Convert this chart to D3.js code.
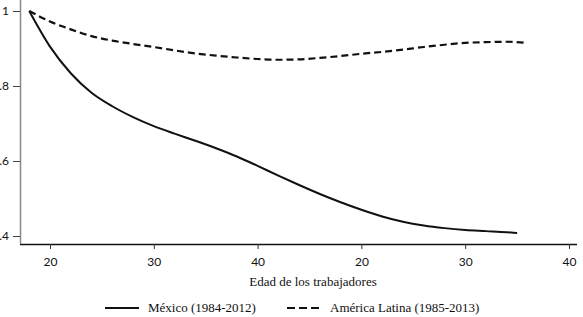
<!DOCTYPE html>
<html>
<head>
<meta charset="utf-8">
<script src="https://cdn.jsdelivr.net/npm/d3@7"></script>
<style>
  body { margin: 0; background: #fff; }
  text { font-family: "Liberation Serif", serif; fill: #111; }
  .tick text { font-family: Lato, "Open Sans", sans-serif; }
</style>
</head>
<body>
<div id="chart"></div>
<script>
// Ages (x) and relative values
const agesMx = [18, 20, 22, 24, 26, 28, 30, 32, 34, 36, 38, 40, 42, 44, 46, 48, 50, 52, 54, 56, 58, 60, 62, 64, 65]
const mexico = [1.0, 0.905, 0.834, 0.782, 0.746, 0.717, 0.693, 0.673, 0.654, 0.634, 0.612, 0.587, 0.561, 0.536, 0.512, 0.490, 0.470, 0.452, 0.438, 0.428, 0.421, 0.416, 0.413, 0.410, 0.408]

const agesAl = [18, 20, 22, 24, 26, 28, 30, 32, 34, 36, 38, 40, 42, 44, 46, 48, 50, 52, 54, 56, 58, 60, 62, 64, 66]
const latam = [1.0, 0.972, 0.951, 0.933, 0.921, 0.912, 0.904, 0.895, 0.887, 0.881, 0.876, 0.872, 0.870, 0.871, 0.875, 0.880, 0.886, 0.891, 0.897, 0.904, 0.910, 0.915, 0.917, 0.918, 0.915]

// Tick positions and the labels printed under them
const xTicks = [20, 30, 40, 50, 60, 70]
const xTickLabels = ["20", "30", "40", "20", "30", "40"]
const yTicks = [0.4, 0.6, 0.8, 1]
const yTickLabels = [".4", ".6", ".8", "1"]

const seriesNames = ["México (1984-2012)", "América Latina (1985-2013)"]

const width = 583, height = 317

const svg = d3.select("#chart")
  .append("svg")
  .attr("width", width)
  .attr("height", height)

// Scales
const x = d3.scaleLinear().domain([20, 70]).range([50, 569])
const y = d3.scaleLinear().domain([0.4, 1]).range([236, 11])

// X axis
const xAxis = svg.append("g")
  .attr("transform", "translate(0,244)")
  .call(d3.axisBottom(x)
    .tickValues(xTicks)
    .tickSize(5)
    .tickPadding(8)
    .tickFormat((d, i) => xTickLabels[i]))
xAxis.select(".domain").attr("d", "M20,0.5H577").attr("stroke", "#111").attr("stroke-width", 1.5)
xAxis.selectAll(".tick line").attr("stroke", "#333")
xAxis.selectAll(".tick text").attr("font-size", 12)

// Y axis
const yAxis = svg.append("g")
  .attr("transform", "translate(20,0)")
  .call(d3.axisLeft(y)
    .tickValues(yTicks)
    .tickSize(7)
    .tickPadding(4)
    .tickFormat((d, i) => yTickLabels[i]))
yAxis.select(".domain").attr("d", "M0.5,0V244").attr("stroke", "#888").attr("stroke-width", 1.5)
yAxis.selectAll(".tick line").attr("stroke", "#444")
yAxis.selectAll(".tick text").attr("font-size", 12)

// Lines
const line = d3.line()
  .x(d => x(d[0]))
  .y(d => y(d[1]))
  .curve(d3.curveMonotoneX)

svg.append("path")
  .datum(agesMx.map((a, i) => [a, mexico[i]]))
  .attr("d", line)
  .attr("fill", "none")
  .attr("stroke", "#111")
  .attr("stroke-width", 2)

svg.append("path")
  .datum(agesAl.map((a, i) => [a, latam[i]]))
  .attr("d", line)
  .attr("fill", "none")
  .attr("stroke", "#111")
  .attr("stroke-width", 2.2)
  .attr("stroke-dasharray", "7,4")

// Axis title
svg.append("text")
  .attr("x", 313)
  .attr("y", 286)
  .attr("text-anchor", "middle")
  .attr("font-size", 13)
  .text("Edad de los trabajadores")

// Legend
const legend = svg.append("g")
const legendItems = [
  {x1: 105, x2: 139, tx: 148, dash: null},
  {x1: 287, x2: 323, tx: 330, dash: "8,4"}
]
legendItems.forEach((d, i) => {
  legend.append("line")
    .attr("x1", d.x1).attr("x2", d.x2)
    .attr("y1", 308).attr("y2", 308)
    .attr("stroke", "#111")
    .attr("stroke-width", 2.2)
    .attr("stroke-dasharray", d.dash)
  legend.append("text")
    .attr("x", d.tx)
    .attr("y", 312)
    .attr("font-size", 13)
    .text(seriesNames[i])
})
</script>
</body>
</html>
